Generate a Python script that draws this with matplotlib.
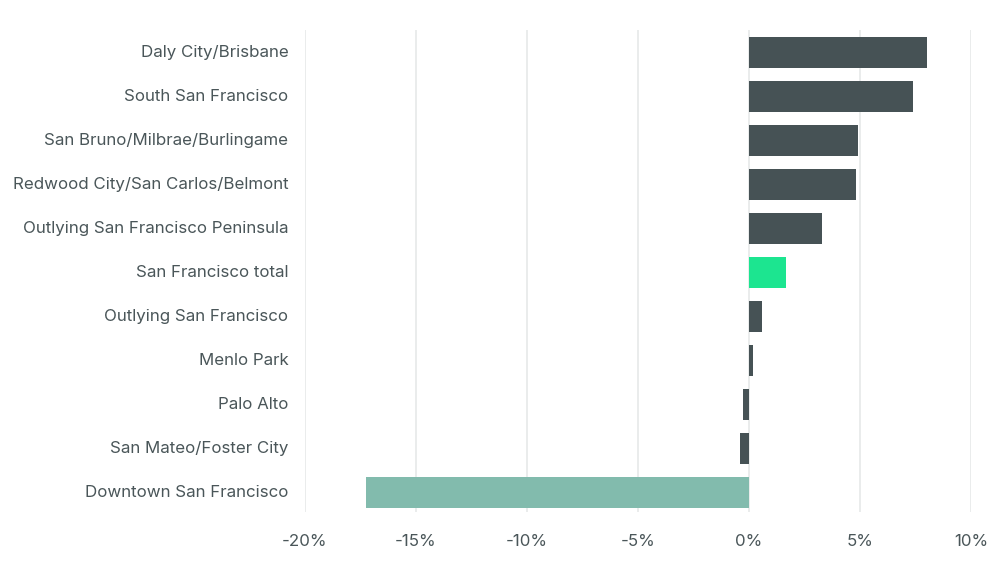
import matplotlib
matplotlib.use("Agg")
import matplotlib.pyplot as plt
from matplotlib.ticker import FuncFormatter

categories = [
    "Daly City/Brisbane",
    "South San Francisco",
    "San Bruno/Milbrae/Burlingame",
    "Redwood City/San Carlos/Belmont",
    "Outlying San Francisco Peninsula",
    "San Francisco total",
    "Outlying San Francisco",
    "Menlo Park",
    "Palo Alto",
    "San Mateo/Foster City",
    "Downtown San Francisco",
]
values = [8.0, 7.4, 4.9, 4.8, 3.3, 1.65, 0.6, 0.18, -0.25, -0.4, -17.25]
colors = ["#465255"] * 5 + ["#1ce590"] + ["#465255"] * 4 + ["#82bbad"]
xticks = [-20, -15, -10, -5, 0, 5, 10]

plt.rcParams['font.family'] = ['Inter', 'DejaVu Sans']
text_color = "#4a5659"

fig = plt.figure(figsize=(10, 5.72), dpi=100)
ax = fig.add_axes([0.305, 0.105, 0.666, 0.843])
y = list(range(len(categories)))
ax.barh(y, values, height=0.7, color=colors, zorder=3)
ax.set_yticks(y)
ax.set_yticklabels(categories)
ax.set_ylim(10.44, -0.52)
ax.set_xlim(-20, 10)
ax.set_xticks(xticks)
ax.xaxis.set_major_formatter(FuncFormatter(lambda v, p: f"{int(v)}%"))
ax.grid(axis="x", color="#e6e9e9", linewidth=1.2, zorder=0)
ax.grid(axis="y", visible=False)
for s in ax.spines.values():
    s.set_visible(False)
ax.tick_params(axis="both", length=0, labelsize=12.2, colors=text_color)
ax.tick_params(axis="y", pad=12)
ax.tick_params(axis="x", pad=16)
for lbl in ax.get_yticklabels():
    lbl.set_va("center")
fig.savefig("out.png", dpi=100, facecolor="white")
